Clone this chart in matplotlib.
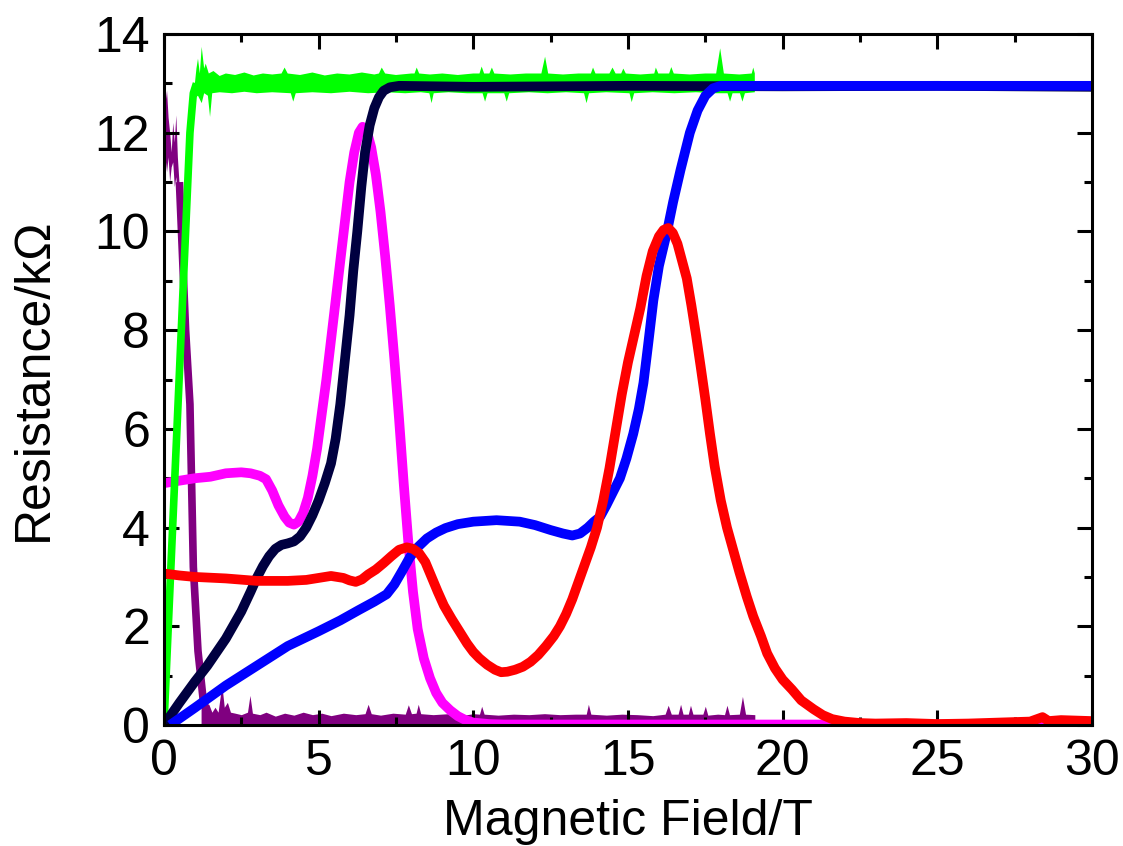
import numpy as np
import matplotlib
matplotlib.use("Agg")
import matplotlib.pyplot as plt
from matplotlib.ticker import MultipleLocator

plt.rcParams['font.family'] = ['Liberation Sans', 'DejaVu Sans']

# ---------------- data ----------------
navy_x = [0.0, 0.5, 1.0, 1.4, 2.0, 2.5, 2.8, 3.0, 3.2, 3.4, 3.6, 3.8, 4.0, 4.2, 4.4, 4.6, 4.8,
          5.0, 5.2, 5.4, 5.55, 5.7, 5.85, 6.0, 6.12, 6.25, 6.38, 6.5, 6.65, 6.8, 6.95, 7.1,
          7.3, 7.6, 10.0, 15.0, 20.0, 25.0, 30.0]
navy_y = [0.0, 0.45, 0.88, 1.2, 1.75, 2.3, 2.7, 2.98, 3.22, 3.42, 3.57, 3.65, 3.68, 3.72, 3.82,
          4.0, 4.25, 4.55, 4.9, 5.3, 5.8, 6.5, 7.4, 8.3, 9.2, 10.0, 10.9, 11.6, 12.15, 12.5,
          12.72, 12.85, 12.92, 12.95, 12.93, 12.95, 12.94, 12.95, 12.93]

magenta_x = [0.0, 0.3, 1.0, 1.5, 2.0, 2.5, 2.8, 3.1, 3.3, 3.5, 3.7, 3.9, 4.05, 4.2, 4.35, 4.5,
             4.65, 4.8, 4.95, 5.1, 5.25, 5.4, 5.55, 5.7, 5.85, 6.0, 6.15, 6.3, 6.42, 6.55,
             6.7, 6.85, 7.0, 7.15, 7.3, 7.45, 7.6, 7.75, 7.9, 8.05, 8.2, 8.4, 8.6, 8.8, 9.0,
             9.25, 9.5, 9.75, 10.0, 10.5, 11.0, 15.0, 20.0, 25.0, 30.0]
magenta_y = [4.9, 4.93, 5.0, 5.03, 5.1, 5.12, 5.1, 5.05, 4.98, 4.75, 4.45, 4.22, 4.1, 4.06, 4.12,
             4.3, 4.6, 5.05, 5.6, 6.3, 7.0, 7.8, 8.6, 9.4, 10.2, 11.0, 11.6, 12.0, 12.12, 12.05,
             11.7, 11.15, 10.4, 9.5, 8.5, 7.4, 6.2, 4.9, 3.7, 2.7, 1.95, 1.35, 0.95, 0.65, 0.45,
             0.3, 0.18, 0.1, 0.05, 0.02, 0.01, 0.01, 0.01, 0.01, 0.01]

blue_x = [0.2, 1.0, 2.0, 2.5, 3.0, 4.0, 5.0, 5.7, 6.3, 6.8, 7.2, 7.45, 7.7, 7.95, 8.2, 8.5,
          8.8, 9.1, 9.5, 10.0, 10.75, 11.5, 12.0, 12.5, 12.9, 13.2, 13.45, 13.7, 13.9, 14.1,
          14.3, 14.5, 14.74, 14.95, 15.17, 15.35, 15.5, 15.65, 15.82, 16.0, 16.25, 16.46,
          16.7, 17.0, 17.25, 17.5, 17.75, 18.0, 20.0, 25.0, 30.0]
blue_y = [0.0, 0.35, 0.8, 1.0, 1.2, 1.6, 1.9, 2.12, 2.33, 2.5, 2.65, 2.85, 3.12, 3.4, 3.6, 3.78,
          3.9, 3.99, 4.07, 4.12, 4.15, 4.12, 4.05, 3.95, 3.88, 3.84, 3.88, 4.0, 4.12, 4.22,
          4.45, 4.7, 5.0, 5.4, 5.9, 6.4, 6.93, 7.7, 8.6, 9.3, 9.96, 10.6,
          11.25, 12.0, 12.45, 12.75, 12.9, 12.95, 12.95, 12.95, 12.95]

red_x = [0.0, 0.5, 1.0, 2.0, 3.0, 4.0, 4.6, 5.0, 5.4, 5.8, 6.0, 6.2, 6.4, 6.6, 6.85, 7.1, 7.35,
         7.6, 7.85, 8.05, 8.25, 8.45, 8.65, 8.85, 9.05, 9.3, 9.55, 9.8, 10.0, 10.2, 10.45,
         10.7, 10.9, 11.1, 11.35, 11.6, 11.85, 12.1, 12.35, 12.6, 12.8, 13.0, 13.2,
         13.4, 13.6, 13.8, 14.0, 14.2, 14.4, 14.6, 14.8, 15.0, 15.2, 15.4, 15.6, 15.8,
         16.0, 16.15, 16.3, 16.45, 16.6, 16.75, 16.9, 17.05, 17.2, 17.35, 17.5, 17.65, 17.8,
         18.0, 18.2, 18.4, 18.6, 18.84, 19.05, 19.3, 19.5, 19.75, 20.0, 20.3, 20.6,
         21.0, 21.3, 21.6, 22.0, 22.5, 23.0, 24.0, 25.0, 26.0, 27.0, 28.0, 28.4,
         28.6, 29.0, 30.0]
red_y = [3.07, 3.03, 3.0, 2.97, 2.92, 2.92, 2.94, 2.98, 3.02, 2.98, 2.93, 2.9, 2.95, 3.05, 3.15,
         3.28, 3.42, 3.55, 3.6, 3.57, 3.48, 3.3, 3.0, 2.7, 2.42, 2.15, 1.9, 1.65, 1.48, 1.35,
         1.22, 1.12, 1.07, 1.08, 1.12, 1.18, 1.28, 1.42, 1.6, 1.8, 2.0, 2.25, 2.55,
         2.9, 3.25, 3.6, 4.0, 4.55, 5.2, 5.95, 6.7, 7.35, 7.9, 8.45, 9.1, 9.6,
         9.9, 10.03, 10.07, 9.97, 9.75, 9.4, 9.05, 8.5, 7.9, 7.26, 6.6, 5.9, 5.25,
         4.55, 4.0, 3.55, 3.1, 2.6, 2.2, 1.8, 1.45, 1.15, 0.92, 0.72, 0.5,
         0.32, 0.2, 0.12, 0.07, 0.04, 0.03, 0.04, 0.02, 0.03, 0.05, 0.07, 0.16,
         0.08, 0.1, 0.08]

green_rise_x = [0.0, 0.14, 0.35, 0.63, 0.84, 0.95, 1.05]
green_rise_y = [0.0, 2.0, 5.0, 9.0, 12.0, 12.8, 13.0]

green_up_x = [1.0, 1.05, 1.1, 1.16, 1.22, 1.3, 1.35, 1.45, 1.6, 1.8, 2.0, 2.3, 2.6, 2.9, 3.2,
              3.5, 3.8, 3.9, 4.0, 4.4, 4.8, 5.2, 5.6, 6.0, 6.4, 6.8, 6.95, 7.04, 7.15, 7.5,
              8.0, 8.1, 8.17, 8.25, 8.6, 9.0, 9.5, 10.0, 10.2, 10.27, 10.35, 10.52, 10.6,
              10.68, 11.2, 11.7, 12.2, 12.32, 12.42, 12.9, 13.4, 13.8, 13.87, 13.95, 14.4,
              14.5, 14.6, 14.78, 14.85, 14.93, 15.4, 15.85, 15.9, 15.98, 16.33, 16.4, 16.48,
              17.0, 17.5, 17.85, 17.98, 18.1, 18.6, 19.0, 19.05, 19.1]
green_up_y = [13.0, 13.3, 13.5, 13.2, 13.74, 13.3, 13.4, 13.2, 13.25, 13.15, 13.2, 13.17, 13.22,
              13.16, 13.2, 13.18, 13.2, 13.32, 13.2, 13.17, 13.22, 13.16, 13.2, 13.18, 13.22,
              13.18, 13.2, 13.32, 13.2, 13.17, 13.2, 13.2, 13.32, 13.2, 13.18, 13.2, 13.17,
              13.2, 13.2, 13.34, 13.2, 13.2, 13.32, 13.2, 13.18, 13.2, 13.2, 13.54, 13.2,
              13.18, 13.2, 13.2, 13.32, 13.2, 13.2, 13.32, 13.2, 13.2, 13.3, 13.2, 13.18,
              13.2, 13.32, 13.2, 13.2, 13.33, 13.2, 13.18, 13.2, 13.2, 13.71, 13.2, 13.18,
              13.2, 13.32, 13.2]
green_lo_x = [1.0, 1.1, 1.22, 1.3, 1.42, 1.49, 1.56, 1.8, 2.2, 2.6, 3.0, 3.5, 4.1, 4.18, 4.26,
              4.8, 5.4, 6.0, 6.6, 7.2, 7.8, 8.3, 8.58, 8.65, 8.72, 9.2, 9.8, 10.3, 10.38,
              10.46, 11.0, 11.08, 11.16, 11.8, 12.4, 13.0, 13.58, 13.66, 13.74, 14.3, 15.05,
              15.12, 15.2, 15.8, 16.5, 17.2, 17.8, 18.22, 18.3, 18.38, 18.62, 18.7, 18.78,
              19.1]
green_lo_y = [12.7, 12.75, 12.6, 12.8, 12.75, 12.32, 12.8, 12.82, 12.8, 12.83, 12.8, 12.82, 12.8,
              12.63, 12.8, 12.82, 12.8, 12.83, 12.8, 12.82, 12.8, 12.82, 12.8, 12.6, 12.8,
              12.82, 12.8, 12.8, 12.63, 12.8, 12.8, 12.63, 12.8, 12.82, 12.8, 12.82, 12.8,
              12.6, 12.8, 12.82, 12.8, 12.62, 12.8, 12.82, 12.8, 12.82, 12.8, 12.8, 12.63,
              12.8, 12.8, 12.63, 12.8, 12.82]

purple_top_x = [0.0, 0.05, 0.1, 0.15, 0.2, 0.25, 0.3, 0.35, 0.4, 0.45, 0.5, 0.55]
purple_top_y = [12.8, 12.6, 12.85, 12.3, 12.0, 11.6, 12.2, 11.8, 12.35, 11.5, 11.0, 10.3]
purple_bot_y = [11.8, 11.5, 11.2, 11.5, 11.0, 11.3, 11.4, 10.9, 11.1, 10.6, 10.2, 9.8]

purple_drop_x = [0.5, 0.6, 0.7, 0.84, 0.95, 1.1, 1.27, 1.4]
purple_drop_y = [11.0, 9.5, 8.0, 6.5, 3.2, 1.5, 0.5, 0.25]

purple_base_x = [1.2, 1.3, 1.45, 1.55, 1.65, 1.75, 1.87, 1.95, 2.05, 2.15, 2.3, 2.5, 2.7, 2.78,
                 2.86, 3.1, 3.3, 3.6, 3.9, 4.2, 4.5, 4.8, 5.1, 5.4, 5.8, 6.2, 6.5, 6.6, 6.7,
                 7.0, 7.4, 7.8, 7.9, 8.0, 8.15, 8.22, 8.3, 8.7, 9.2, 9.6, 10.0, 10.2, 10.27,
                 10.35, 10.8, 11.3, 11.8, 12.3, 12.8, 13.3, 13.65, 13.72, 13.8, 14.3, 14.8,
                 15.3, 15.8, 16.2, 16.3, 16.4, 16.62, 16.7, 16.78, 16.95, 17.02, 17.1, 17.42,
                 17.5, 17.58, 17.9, 18.12, 18.2, 18.28, 18.6, 18.7, 18.8, 19.1]
purple_base_y = [0.65, 0.36, 0.42, 0.26, 0.36, 0.26, 0.82, 0.36, 0.46, 0.26, 0.24, 0.21, 0.26,
                 0.6, 0.24, 0.21, 0.26, 0.18, 0.24, 0.2, 0.26, 0.21, 0.24, 0.19, 0.24, 0.21,
                 0.23, 0.42, 0.23, 0.2, 0.24, 0.22, 0.41, 0.23, 0.24, 0.42, 0.23, 0.21, 0.23,
                 0.19, 0.23, 0.22, 0.38, 0.22, 0.2, 0.22, 0.21, 0.23, 0.21, 0.22, 0.22, 0.42,
                 0.22, 0.2, 0.22, 0.21, 0.19, 0.22, 0.4, 0.22, 0.22, 0.42, 0.22, 0.22, 0.4,
                 0.22, 0.22, 0.38, 0.2, 0.22, 0.21, 0.4, 0.21, 0.22, 0.58, 0.22, 0.21]

x_ticks = [0, 5, 10, 15, 20, 25, 30]
y_ticks = [0, 2, 4, 6, 8, 10, 12, 14]

# ---------------- figure ----------------
fig = plt.figure(figsize=(11.23, 8.46), dpi=100)
ax = fig.add_axes([0.146, 0.143, 0.8264, 0.8168])

LW = 7
PURPLE = '#800080'
GREEN = '#00FF00'
line_kw = dict(solid_joinstyle='round', solid_capstyle='butt')

# purple (noisy, filled)
ax.fill(np.concatenate([purple_top_x, purple_top_x[::-1]]),
        np.concatenate([purple_top_y, purple_bot_y[::-1]]), color=PURPLE, lw=0, zorder=1)
ax.plot(purple_drop_x, purple_drop_y, color=PURPLE, lw=5.5, zorder=1, **line_kw)
ax.fill_between(purple_base_x, 0, purple_base_y, color=PURPLE, lw=0, zorder=1)

# magenta
ax.plot(magenta_x, magenta_y, color='#FF00FF', lw=LW, zorder=2, **line_kw)

# green (noisy, filled band)
ax.plot(green_rise_x, green_rise_y, color=GREEN, lw=5.5, zorder=3, **line_kw)
ax.fill(np.concatenate([green_up_x, green_lo_x[::-1]]),
        np.concatenate([green_up_y, green_lo_y[::-1]]), color=GREEN, lw=0, zorder=3)

# navy
ax.plot(navy_x, navy_y, color='#000040', lw=LW, zorder=4, **line_kw)
# blue
ax.plot(blue_x, blue_y, color='#0000FF', lw=LW, zorder=5, **line_kw)
# red
ax.plot(red_x, red_y, color='#FF0000', lw=LW, zorder=6, **line_kw)

ax.set_xlim(0, 30)
ax.set_ylim(0, 14)
ax.set_xticks(x_ticks)
ax.set_yticks(y_ticks)
ax.xaxis.set_minor_locator(MultipleLocator(2.5))
ax.yaxis.set_minor_locator(MultipleLocator(1))
ax.tick_params(which='both', direction='in', top=True, right=True, width=2.2,
               labelsize=36, pad=10)
ax.tick_params(which='major', length=11)
ax.tick_params(which='minor', length=5.5)
for s in ax.spines.values():
    s.set_linewidth(2.2)
    s.set_zorder(10)

ax.set_xlabel('Magnetic Field/T', fontsize=36, labelpad=10)
ax.set_ylabel('Resistance/kΩ', fontsize=36, labelpad=27)

fig.savefig('out.png', dpi=100)
